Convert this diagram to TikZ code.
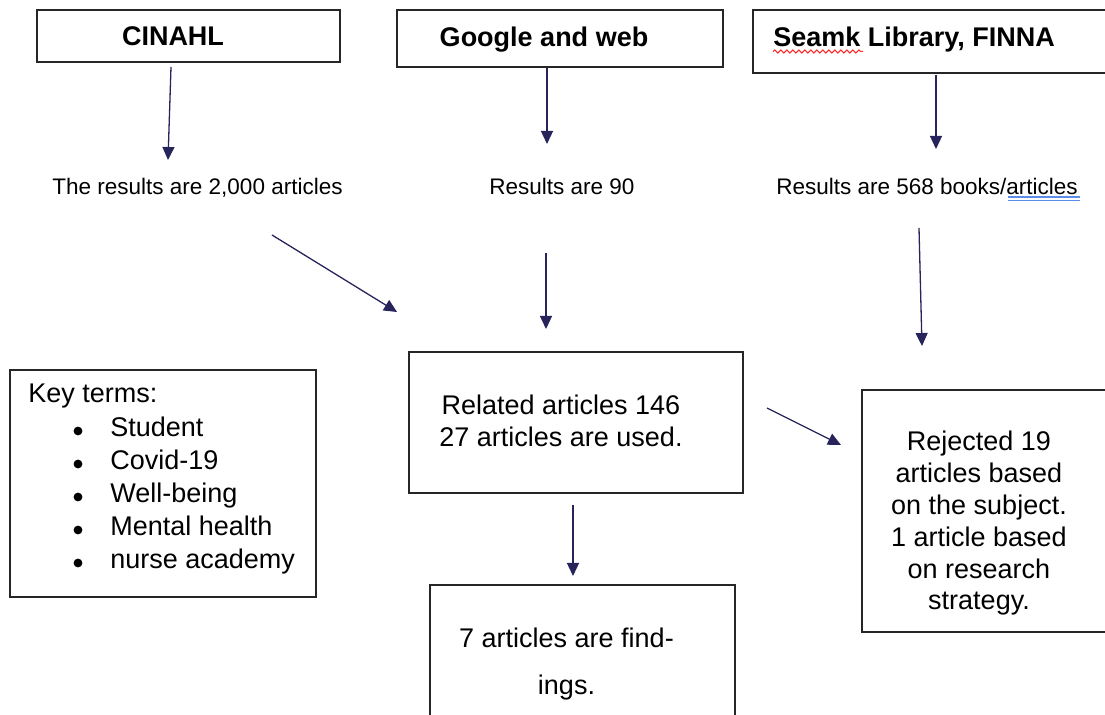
\documentclass[tikz,border=0pt]{standalone}
\usepackage{fontspec}
\setmainfont{Liberation Sans}
\usetikzlibrary{arrows.meta,decorations.pathmorphing}

\definecolor{arrowblue}{HTML}{27245C}
\definecolor{linkblue}{HTML}{5B8DE8}

\tikzset{
  box/.style={draw=black!85,line width=1pt,inner sep=0pt},
  flow/.style={-{Triangle[length=6.5pt,width=6pt]},draw=arrowblue,line width=0.65pt},
  txt/.style={inner sep=0pt,font=\fontsize{13.5}{15.9}\selectfont},
  small/.style={inner sep=0pt,font=\fontsize{11.25}{13.5}\selectfont},
  head/.style={inner sep=0pt,font=\fontsize{13.5}{16}\selectfont\bfseries}
}

\begin{document}
\begin{tikzpicture}[x=0.5pt,y=-0.5pt]
\useasboundingbox (0,0) rectangle (1105,715);
\clip (0,0) rectangle (1105,715);

\coordinate (c1) at (171,67);
\coordinate (c1') at (168,160);
\coordinate (g1) at (547,68);
\coordinate (g1') at (547,144);
\coordinate (s1) at (936,75);
\coordinate (s1') at (936,149);
\coordinate (c2) at (272,235);
\coordinate (c2') at (397,312);
\coordinate (g2) at (546,253);
\coordinate (g2') at (546,329);
\coordinate (s2) at (919,228);
\coordinate (s2') at (922,346);
\coordinate (r) at (767,408);
\coordinate (r') at (841,445);
\coordinate (f) at (573,505);
\coordinate (f') at (573,576);

% boxes
\node[box,minimum width=151.5pt,minimum height=26pt] (cinahlbox) at (188.5,36) {};
\node[box,minimum width=163pt,minimum height=28.5pt] (googlebox) at (560,38.5) {};
\node[box,minimum width=188.5pt,minimum height=31.5pt] (seamkbox) at (941.5,41.5) {};
\node[box,minimum width=153pt,minimum height=113.5pt] (keybox) at (163,483.5) {};
\node[box,minimum width=167pt,minimum height=70.5pt] (relatedbox) at (576,422.5) {};
\node[box,minimum width=134pt,minimum height=121pt] (rejectedbox) at (996,511) {};
\node[box,minimum width=152.5pt,minimum height=77.5pt] (findingsbox) at (582.5,662.5) {};

% sources
\node[head,anchor=base] (cinahl) at (173,46) {CINAHL};
\node[head,anchor=base] (google) at (544,47) {Google and web};
\node[head,anchor=base west] (seamk) at (773,47) {Seamk Library, FINNA};
\draw[red!85,line width=0.5pt,decorate,decoration={snake,amplitude=0.8pt,segment length=3pt}] (773,51.5) -- (863,51.5);

% results
\node[small,anchor=base] (res1) at (197.5,195) {The results are 2,000 articles};
\node[small,anchor=base] (res2) at (562,195) {Results are 90};
\node[small,anchor=base] (res3) at (927,195) {Results are 568 books/articles};
\draw[linkblue,line width=0.6pt] (1008,197) -- (1080,197) (1008,200.5) -- (1080,200.5);

% key terms
\node[txt,anchor=base west] (key) at (28,403) {Key terms:};
\foreach \t [count=\i] in {Student,Covid-19,Well-being,Mental health,nurse academy}{
  \node[txt,anchor=base west] (term\i) at (110,{404+33*\i}) {\t};
  \fill (78,{398+33*\i}) circle (2.2pt);
}

\node[txt,align=center] (related) at (561,420.7) {Related articles 146\\27 articles are used.};
\node[txt,align=center] (rejected) at (979,523.5) {Rejected 19\\articles based\\on the subject.\\1 article based\\on research\\strategy.};
\node[txt,align=center] (findings) at (566.5,664) {7 articles are find-\\[8pt]ings.};

\draw[flow] (c1) to (c1');
\draw[flow] (g1) to (g1');
\draw[flow] (s1) to (s1');
\draw[flow] (c2) to (c2');
\draw[flow] (g2) to (g2');
\draw[flow] (s2) to (s2');
\draw[flow] (r) to (r');
\draw[flow] (f) to (f');
\end{tikzpicture}
\end{document}
